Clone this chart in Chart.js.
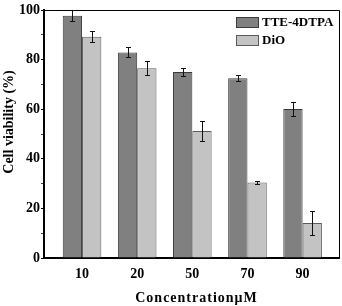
<!DOCTYPE html>
<html>
<head>
<meta charset="utf-8">
<script src="https://cdn.jsdelivr.net/npm/chart.js@4/dist/chart.umd.min.js"></script>
<style>
  html, body { margin: 0; padding: 0; background: #fff; }
  #wrap { width: 342px; height: 306px; position: relative; }
</style>
</head>
<body>
<div id="wrap"><canvas id="c"></canvas></div>
<script>
// data
const categories = ['10', '20', '50', '70', '90'];
const tteValues = [97.7, 82.9, 75.0, 72.5, 60.1];
const tteErrors = [2.1, 2.0, 1.8, 1.3, 2.8];
const dioValues = [89.2, 76.5, 51.2, 30.4, 14.1];
const dioErrors = [2.3, 2.9, 4.0, 0.5, 5.0];
const yTicks = [0, 20, 40, 60, 80, 100];

const serif = '"Liberation Serif", "Times New Roman", "DejaVu Serif", serif';

function toPoints(values) {
    return values.map((v, i) => ({ x: i, y: v }));
}

// error bars, using the bar elements and y scale
const errorBars = {
    id: 'errorBars',
    afterDatasetsDraw(chart) {
        let ctx = chart.ctx;
        let y = chart.scales.y;
        ctx.save();
        ctx.strokeStyle = '#111';
        ctx.lineWidth = 1;
        chart.data.datasets.forEach((ds, di) => {
            let meta = chart.getDatasetMeta(di);
            meta.data.forEach((bar, i) => {
                let v = ds.data[i].y;
                let e = ds.errors[i];
                let top = Math.round(y.getPixelForValue(v + e)) + 0.5;
                let bot = Math.round(y.getPixelForValue(v - e)) + 0.5;
                let x = Math.round(bar.x) + 0.5;
                ctx.beginPath();
                ctx.moveTo(x, top); ctx.lineTo(x, bot);
                ctx.moveTo(x - 2.5, top); ctx.lineTo(x + 2.5, top);
                ctx.moveTo(x - 2.5, bot); ctx.lineTo(x + 2.5, bot);
                ctx.stroke();
            });
        });
        ctx.restore();
    }
};

// frame, legend and axis titles
const decor = {
    id: 'decor',
    afterDraw(chart) {
        let ctx = chart.ctx;
        let a = chart.chartArea;
        ctx.save();
        // thin top and right border
        ctx.strokeStyle = '#000';
        ctx.lineWidth = 1;
        ctx.beginPath();
        ctx.moveTo(a.left, a.top + 0.5); ctx.lineTo(a.right + 0.5, a.top + 0.5);
        ctx.lineTo(a.right + 0.5, a.bottom);
        ctx.stroke();

        // legend
        ctx.font = 'bold 13px ' + serif;
        ctx.textBaseline = 'middle';
        ctx.textAlign = 'left';
        chart.data.datasets.forEach((ds, i) => {
            let bx = a.right - 103, by = a.top + 7 + i * 18;
            ctx.fillStyle = ds.backgroundColor;
            ctx.fillRect(bx, by, 23, 11);
            ctx.strokeStyle = ds.borderColor;
            ctx.strokeRect(bx + 0.5, by + 0.5, 22, 10);
            ctx.fillStyle = '#000';
            ctx.fillText(ds.label, bx + 26, by + 6);
        });

        // y title
        ctx.font = 'bold 14px ' + serif;
        ctx.textAlign = 'center';
        ctx.save();
        ctx.translate(9, 122);
        ctx.rotate(-Math.PI / 2);
        ctx.fillText('Cell viability (%)', 0, 0);
        ctx.restore();

        // x title
        ctx.letterSpacing = '1px';
        ctx.fillText('ConcentrationμM', (a.left + a.right) / 2 + 5, 298);
        ctx.restore();
    }
};

new Chart(document.getElementById('c'), {
    type: 'bar',
    data: {
        datasets: [
            {
                label: 'TTE-4DTPA',
                data: toPoints(tteValues),
                errors: tteErrors,
                backgroundColor: '#808080',
                borderColor: '#3a3a3a',
                borderWidth: 1
            },
            {
                label: 'DiO',
                data: toPoints(dioValues),
                errors: dioErrors,
                backgroundColor: '#c3c3c3',
                borderColor: '#5a5a5a',
                borderWidth: 1
            }
        ]
    },
    options: {
        responsive: true,
        maintainAspectRatio: false,
        animation: false,
        categoryPercentage: 0.7,
        barPercentage: 1.0,
        layout: { padding: { top: 10, right: 3, left: 0, bottom: 0 } },
        plugins: {
            legend: { display: false },
            tooltip: { enabled: false }
        },
        scales: {
            x: {
                type: 'linear',
                offset: false,
                min: -0.69,
                max: 4.66,
                grid: { display: false, drawTicks: false, offset: false },
                border: { color: '#000', width: 2 },
                ticks: {
                    stepSize: 1,
                    includeBounds: false,
                    autoSkip: false,
                    maxRotation: 0,
                    color: '#000',
                    padding: 8,
                    font: { family: serif, size: 14, weight: 'bold' },
                    callback: (v) => Number.isInteger(v) && categories[v] !== undefined ? categories[v] : ''
                },
                afterFit: (s) => { s.height = 48; }
            },
            y: {
                min: 0,
                max: 100,
                grid: {
                    drawOnChartArea: false,
                    drawTicks: true,
                    tickLength: 3,
                    tickColor: (c) => c.tick && yTicks.includes(c.tick.value) ? '#000' : '#444'
                },
                border: { color: '#000', width: 2 },
                ticks: {
                    stepSize: 10,
                    color: '#000',
                    padding: 1,
                    font: { family: serif, size: 14, weight: 'bold' },
                    callback: (v) => yTicks.includes(v) ? String(v) : ''
                },
                afterFit: (s) => { s.width = 44; }
            }
        }
    },
    plugins: [errorBars, decor]
});
</script>
</body>
</html>
